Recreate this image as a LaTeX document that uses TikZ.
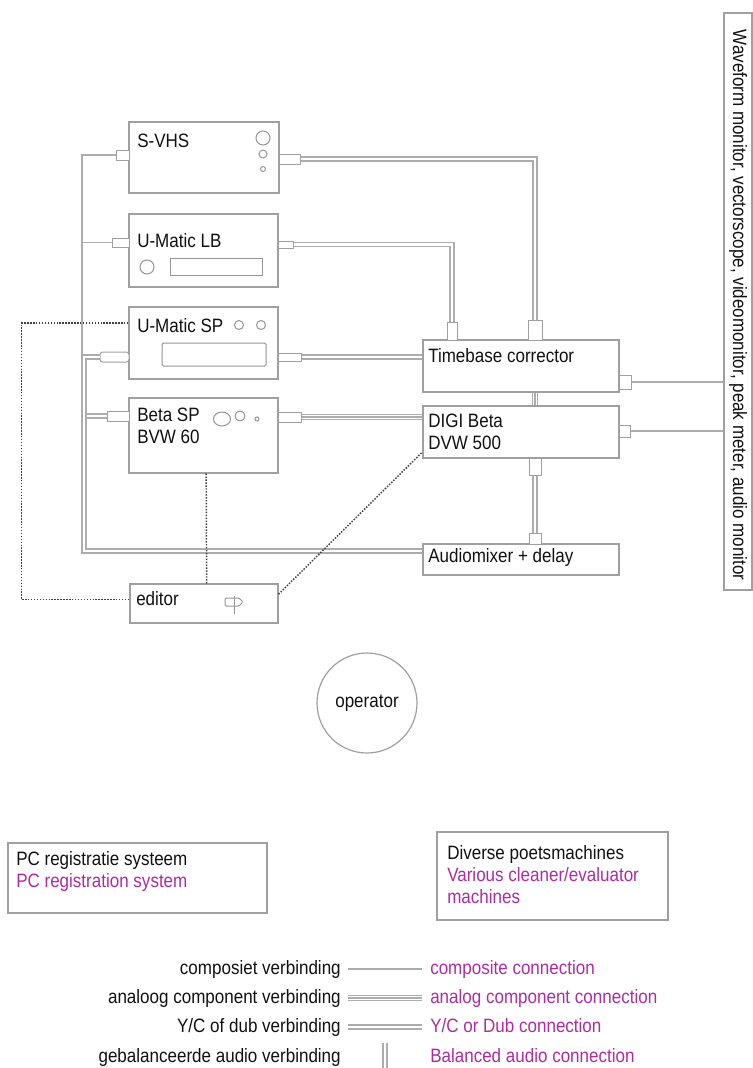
\documentclass[tikz,border=0pt]{standalone}
\usepackage{fontspec}
\setmainfont{Liberation Sans}[FakeStretch=0.88]
\usetikzlibrary{fit}

\begin{document}
\begin{tikzpicture}[x=0.75pt, y=-0.75pt,
    devbox/.style={draw=boxgray, line width=0.9pt, fill=white, inner sep=0pt},
    port/.style={draw=boxgray, line width=0.75pt, fill=white, inner sep=0pt},
    knob/.style={draw=knobgray, line width=0.75pt},
    lbl/.style={font=\fontsize{14.5}{16.5}\selectfont, text=ink, inner sep=0pt, align=left},
    eng/.style={lbl, text=engpurple},
    composite/.style={draw=wiregray, line width=0.8pt},
    ycline/.style={draw=wiregray, line width=0.8pt, double=white, double distance=2.2pt},
    compline/.style={draw=wiregray, line width=0.8pt, double=white, double distance=3.4pt,
        postaction={draw=wiregray, line width=0.8pt}},
    ctrl/.style={draw=dotgray, line width=1.1pt, dash pattern=on 1.1pt off 1.1pt}]
    \definecolor{ink}{HTML}{111111}
    \definecolor{engpurple}{HTML}{B02BA0}
    \definecolor{boxgray}{HTML}{A0A0A0}
    \definecolor{wiregray}{HTML}{ADADAD}
    \definecolor{knobgray}{HTML}{969696}
    \definecolor{dotgray}{HTML}{404040}
    %\draw[help lines] (0,0) grid[step=50] (753,1068);
    \useasboundingbox (0,0) rectangle (753,1068);

    \node[devbox, fit={(129,122) (279,193)}] (svhs) {};
    \node[devbox, fit={(129,214) (278,287)}] (umlb) {};
    \node[devbox, fit={(129,307) (278,379)}] (umsp) {};
    \node[devbox, fit={(129,398) (278,473)}] (betasp) {};
    \node[devbox, fit={(423,340) (619,392)}] (tbc) {};
    \node[devbox, fit={(423,406) (619,458)}] (digi) {};
    \node[devbox, fit={(423,544) (619,575)}] (mixer) {};
    \node[devbox, fit={(130,584) (278,623)}] (editor) {};
    \node[devbox, fit={(724,13) (752,590)}] (monitor) {};
    \node[devbox, fit={(8,843) (267,913)}] (pcreg) {};
    \node[devbox, fit={(437,832) (668,920)}] (poets) {};
    \node[devbox, circle, minimum size=75pt, lbl] (operator) at (367,703) {operator};

    \node[port, fit={(116,150) (129,160)}] (svhs-l) {};
    \node[port, fit={(279,154) (300,164)}] (svhs-r) {};
    \node[port, fit={(112,238) (129,247)}] (umlb-l) {};
    \node[port, fit={(278,241) (293,248)}] (umlb-r) {};
    \node[port, rounded corners=2pt, fit={(100,352) (129,362)}] (umsp-l) {};
    \node[port, fit={(278,353) (301,361)}] (umsp-r) {};
    \node[port, fit={(107,411) (129,421)}] (betasp-l) {};
    \node[port, fit={(278,412) (301,422)}] (betasp-r) {};
    \node[port, fit={(447,322) (457,340)}] (tbc-t1) {};
    \node[port, fit={(528,320) (542,340)}] (tbc-t2) {};
    \node[port, fit={(619,375) (631,389)}] (tbc-r) {};
    \node[port, fit={(619,425) (630,437)}] (digi-r) {};
    \node[port, fit={(529,458) (541,475)}] (digi-b) {};
    \node[port, fit={(529,533) (541,544)}] (mixer-t) {};

    \draw[knob] (263,138) circle[radius=7];
    \draw[knob] (263,154) circle[radius=4];
    \draw[knob] (263,169) circle[radius=2.5];
    \draw[knob] (147,267) circle[radius=7];
    \draw[knob] (170,258) rectangle (262,275);
    \draw[knob] (239,325) circle[radius=4.5];
    \draw[knob] (261,325) circle[radius=4.5];
    \draw[knob, rounded corners=1pt] (162,343) rectangle (266,366);
    \draw[knob] (222,419) ellipse[x radius=8.5, y radius=7];
    \draw[knob] (240,416) circle[radius=5];
    \draw[knob] (257,419) circle[radius=2];
    \draw[knob, rounded corners=1pt] (225,598) -- (239,598) -- (243,602) -- (239,606) -- (225,606) -- cycle;
    \draw[knob] (234,596) -- (234,614);

    \node[lbl, anchor=north west] (svhs-txt) at (137,134) {S-VHS};
    \node[lbl, anchor=north west] (umlb-txt) at (137,233) {U-Matic LB};
    \node[lbl, anchor=north west] (umsp-txt) at (137,318) {U-Matic SP};
    \node[lbl, anchor=north west] (betasp-txt) at (137,408) {Beta SP\\BVW 60};
    \node[lbl, anchor=north west] (tbc-txt) at (428,348) {Timebase corrector};
    \node[lbl, anchor=north west] (digi-txt) at (428,414) {DIGI Beta\\DVW 500};
    \node[lbl, anchor=north west] (mixer-txt) at (428,548) {Audiomixer + delay};
    \node[lbl, anchor=north west] (editor-txt) at (136,591) {editor};
    \node[lbl, rotate=-90] (monitor-txt) at (738,305)
        {Waveform monitor, vectorscope, videomonitor, peak meter, audio monitor};
    \node[lbl, anchor=north west] (pcreg-txt) at (16,851)
        {PC registratie systeem\\\textcolor{engpurple}{PC registration system}};
    \node[lbl, anchor=north west] (poets-txt) at (447,845)
        {Diverse poetsmachines\\\textcolor{engpurple}{Various cleaner/evaluator}\\\textcolor{engpurple}{machines}};

    \coordinate (bus-mid) at (82,357);
    \coordinate (bus-bot) at (84,551);

    % composite
    \draw[composite] (svhs-l.west) -| (bus-mid);
    \draw[composite] (umlb-l.west) -- (umlb-l.west -| bus-mid);
    \draw[composite] (tbc-r.east) -- (tbc-r.east -| monitor.west);
    \draw[composite] (digi-r.east) -- (digi-r.east -| monitor.west);
    % Y/C
    \draw[ycline] (svhs-r.east) -| (tbc-t2.north);
    \draw[ycline] (umlb-r.east) -| (tbc-t1.north);
    \draw[ycline] (umsp-r.east) -- (umsp-r.east -| tbc.west);
    % component
    \draw[compline] (betasp-r.east) -- (betasp-r.east -| digi.west);
    \draw[compline] (tbc-t2 |- tbc.south) -- (tbc-t2 |- digi.north);
    % audio
    \draw[ycline] (betasp-l.west) -- (betasp-l.west -| bus-bot);
    \draw[ycline] (umsp-l.west) -| (bus-bot) -- (bus-bot -| mixer.west);
    \draw[ycline] (digi-b.south) -- (mixer-t.north);
    % remote
    \draw[ctrl] ([yshift=15pt]umsp.west) -- ++(-107,0) |- ([yshift=3pt]editor.west);
    \draw[ctrl] ([xshift=2pt]betasp.south) -- ([xshift=2pt]editor.north);
    \draw[ctrl] ([yshift=7pt]editor.east) -- ([yshift=-15pt]digi.west);

    % legend
    \node[lbl, anchor=base east] (nl-comp) at (341,974) {composiet verbinding};
    \node[eng, anchor=base west] (el-comp) at (430,974) {composite connection};
    \node[lbl, anchor=base east] (nl-ana) at (341,1003) {analoog component verbinding};
    \node[eng, anchor=base west] (el-ana) at (430,1003) {analog component connection};
    \node[lbl, anchor=base east] (nl-yc) at (341,1032) {Y/C of dub verbinding};
    \node[eng, anchor=base west] (el-yc) at (430,1032) {Y/C or Dub connection};
    \node[lbl, anchor=base east] (nl-bal) at (341,1062) {gebalanceerde audio verbinding};
    \node[eng, anchor=base west] (el-bal) at (430,1062) {Balanced audio connection};
    \draw[composite] ([shift={(7,-5)}]nl-comp.base east) -- ([shift={(-8,-5)}]el-comp.base west);
    \draw[compline] ([shift={(7,-5)}]nl-ana.base east) -- ([shift={(-8,-5)}]el-ana.base west);
    \draw[ycline] ([shift={(7,-5)}]nl-yc.base east) -- ([shift={(-8,-5)}]el-yc.base west);
    \draw[ycline] (385,1043) -- (385,1068);
\end{tikzpicture}
\end{document}
